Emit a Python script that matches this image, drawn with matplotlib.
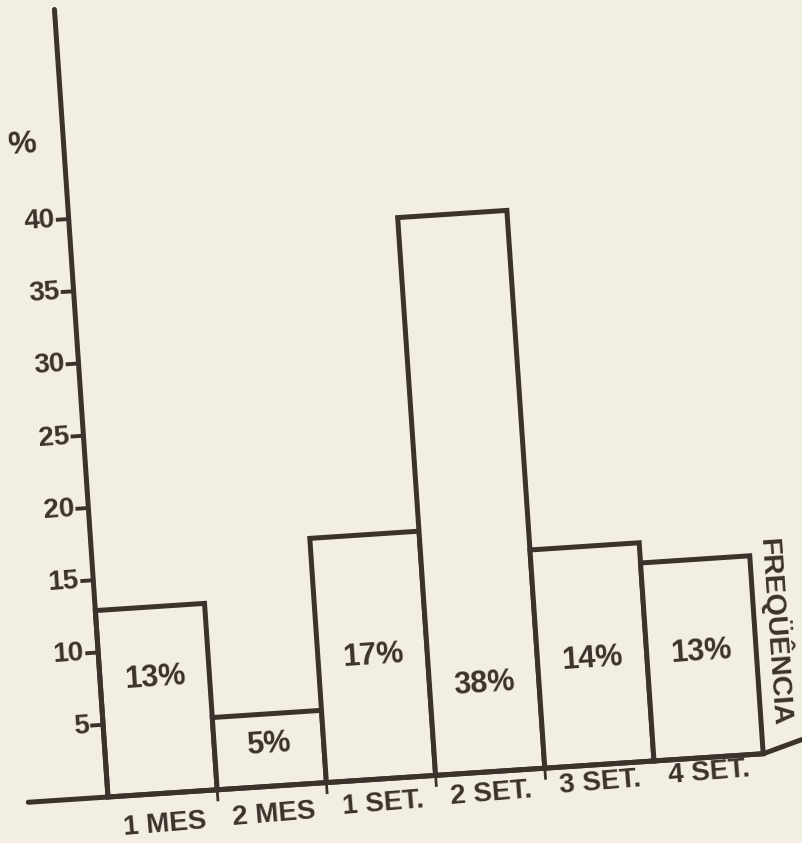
import numpy as np
import matplotlib
matplotlib.use("Agg")
import matplotlib.pyplot as plt
from matplotlib.transforms import Affine2D

# ---- data ----
categories = ["1 MES", "2 MES", "1 SET.", "2 SET.", "3 SET.", "4 SET."]
values = [12.9, 5.0, 16.9, 38.6, 15.1, 13.7]          # bar heights
bar_labels = ["13%", "5%", "17%", "38%", "14%", "13%"]
y_ticks = [5, 10, 15, 20, 25, 30, 35, 40]
y_unit_label = "%"
side_label = "FREQÜÊNCIA"

# ---- layout / style ----
label_y = [8.0, 2.9, 8.5, 6.1, 7.3, 7.3]
BG = "#f3eee2"
INK = "#3a322b"
FONT = ["Liberation Sans", "DejaVu Sans"]
plt.rcParams["font.family"] = FONT
WEIGHT = "bold"

W, H = 8.02, 8.43
fig = plt.figure(figsize=(W, H), dpi=100, facecolor=BG)
ax = fig.add_axes([0, 0, 1, 1])
ax.set_facecolor(BG)
ax.axis("off")

px_x, px_y = 109.2, 14.45         # pixels per data unit
ox, oy = 108.0, 46.0              # display origin of (x=-0.5, y=0)
ax.set_xlim(-0.5 - ox / px_x, -0.5 + (W * 100 - ox) / px_x)
ax.set_ylim(-oy / px_y, (H * 100 - oy) / px_y)

# hand-drawn page is slightly sheared: apply the same shear to everything
shx, shy = -0.068, 0.066
shear = (Affine2D().translate(-ox, -oy)
         + Affine2D.from_values(1, shy, shx, 1, 0, 0)
         + Affine2D().translate(ox, oy))
tr = ax.transData + shear
ang = np.degrees(np.arctan(shy))

n = len(categories)
xs = np.arange(n)

# bars
ax.bar(xs, values, width=1.0, bottom=0, facecolor=BG, edgecolor=INK,
       linewidth=3.6, transform=tr, zorder=3, clip_on=False)

# y axis line
ax.plot([-0.5, -0.5], [0, 54.5], color=INK, lw=3.6, transform=tr,
        solid_capstyle="round", zorder=4, clip_on=False)
# baseline (slightly curving up at its right end)
ax.plot([-1.23, n - 0.5, n - 0.14], [0, 0, 0.8], color=INK, lw=3.6, transform=tr,
        solid_capstyle="round", solid_joinstyle="round", zorder=4, clip_on=False)

# y ticks + labels
for t in y_ticks:
    ax.plot([-0.5 - 0.1, -0.5], [t, t], color=INK, lw=2.8, transform=tr, zorder=4)
    ax.text(-0.5 - 0.13, t, str(t), transform=tr, ha="right", va="center",
            fontsize=20, fontweight=WEIGHT, color=INK, rotation=ang,
            rotation_mode="anchor")
ax.text(-0.878, 45.3, y_unit_label, transform=tr, ha="center", va="center",
        fontsize=23, fontweight=WEIGHT, color=INK, rotation=ang, rotation_mode="anchor")

# small marks under baseline between categories
for b in np.arange(0.5, 4.0, 1.0):
    ax.plot([b, b], [0, -0.7], color=INK, lw=2.0, transform=tr, zorder=4)

# bar value labels
for i, (s, ly) in enumerate(zip(bar_labels, label_y)):
    ax.text(xs[i], ly, s, transform=tr, ha="center", va="center",
            fontsize=22, fontweight=WEIGHT, color=INK, rotation=ang,
            rotation_mode="anchor", zorder=5)

# category labels
for i, c in enumerate(categories):
    ax.text(xs[i], -2.15 + 0.22 * i, c, transform=tr, ha="center", va="center",
            fontsize=20, fontweight=WEIGHT, color=INK, rotation=ang + 1,
            rotation_mode="anchor")

# side label
ax.text(5.69, 8.33, side_label, transform=tr, ha="center", va="center",
        fontsize=20.5, fontweight=WEIGHT, color=INK, rotation=-86, rotation_mode="anchor")

fig.savefig("out.png", dpi=100, facecolor=BG)
